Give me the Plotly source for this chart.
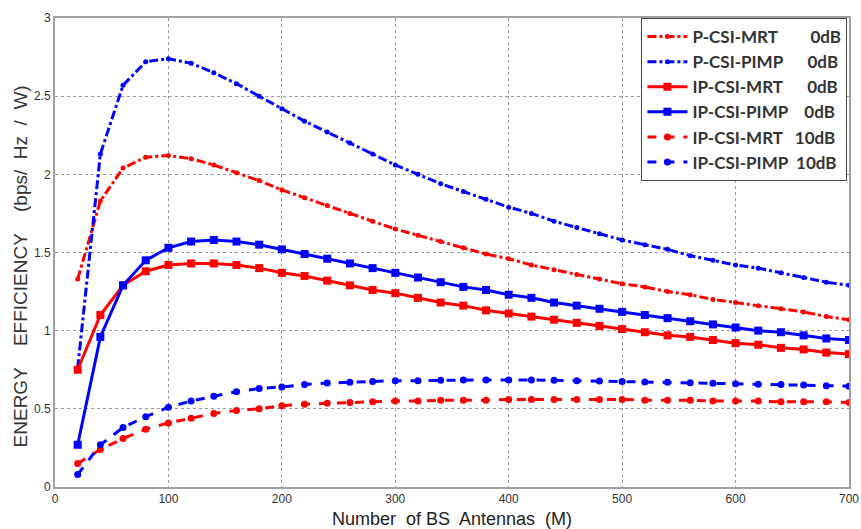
import plotly.graph_objects as go

antennas = list(range(20, 701, 20))

p_mrt_0 = [1.33, 1.83, 2.04, 2.11, 2.12, 2.10, 2.06, 2.01, 1.96, 1.90, 1.85, 1.80, 1.75, 1.70, 1.65,
           1.61, 1.57, 1.53, 1.49, 1.46, 1.42, 1.39, 1.36, 1.33, 1.30, 1.28, 1.25, 1.23, 1.20, 1.18,
           1.16, 1.14, 1.12, 1.09, 1.07]
p_pimp_0 = [0.76, 2.13, 2.57, 2.72, 2.74, 2.71, 2.65, 2.58, 2.50, 2.42, 2.34, 2.27, 2.20, 2.13, 2.06,
            2.00, 1.94, 1.89, 1.84, 1.79, 1.75, 1.70, 1.66, 1.62, 1.58, 1.55, 1.52, 1.48, 1.45, 1.42,
            1.40, 1.37, 1.34, 1.31, 1.29]
ip_mrt_0 = [0.75, 1.10, 1.29, 1.38, 1.42, 1.43, 1.43, 1.42, 1.40, 1.37, 1.35, 1.32, 1.29, 1.26, 1.24,
            1.21, 1.18, 1.16, 1.13, 1.11, 1.09, 1.07, 1.05, 1.03, 1.01, 0.99, 0.97, 0.96, 0.94, 0.92,
            0.91, 0.89, 0.88, 0.86, 0.85]
ip_pimp_0 = [0.27, 0.96, 1.29, 1.45, 1.53, 1.57, 1.58, 1.57, 1.55, 1.52, 1.49, 1.46, 1.43, 1.40, 1.37,
             1.34, 1.31, 1.28, 1.26, 1.23, 1.21, 1.18, 1.16, 1.14, 1.12, 1.10, 1.08, 1.06, 1.04, 1.02,
             1.00, 0.99, 0.97, 0.95, 0.94]
ip_mrt_10 = [0.15, 0.24, 0.31, 0.37, 0.41, 0.44, 0.47, 0.49, 0.50, 0.52, 0.53, 0.535, 0.54, 0.545, 0.55,
             0.55, 0.555, 0.555, 0.555, 0.56, 0.56, 0.56, 0.56, 0.56, 0.56, 0.555, 0.555, 0.555, 0.55, 0.55,
             0.55, 0.545, 0.545, 0.545, 0.54]
ip_pimp_10 = [0.08, 0.27, 0.38, 0.45, 0.51, 0.55, 0.58, 0.61, 0.63, 0.64, 0.655, 0.665, 0.67, 0.675, 0.68,
              0.68, 0.683, 0.685, 0.685, 0.685, 0.685, 0.683, 0.68, 0.678, 0.675, 0.672, 0.67, 0.667, 0.663, 0.66,
              0.657, 0.655, 0.652, 0.648, 0.645]

labels = ["P-CSI-MRT&nbsp;&nbsp;&nbsp;&nbsp;&nbsp;&nbsp;&nbsp;&nbsp;0dB",
          "P-CSI-PIMP&nbsp;&nbsp;&nbsp;&nbsp;&nbsp;&nbsp;0dB",
          "IP-CSI-MRT&nbsp;&nbsp;&nbsp;&nbsp;&nbsp;&nbsp;0dB",
          "IP-CSI-PIMP&nbsp;&nbsp;&nbsp;&nbsp;0dB",
          "IP-CSI-MRT&nbsp;&nbsp;&nbsp;10dB",
          "IP-CSI-PIMP&nbsp;&nbsp;10dB"]

x_title = "Number  of BS  Antennas  (M)"
y_title = "ENERGY&nbsp;&nbsp;&nbsp;&nbsp;EFFICIENCY&nbsp;&nbsp;&nbsp;&nbsp;(bps/&nbsp;&nbsp;Hz&nbsp;&nbsp;/&nbsp;&nbsp;W)"

RED = "#ff0000"
BLUE = "#0000ff"

series = [
    (p_mrt_0, labels[0], RED, "dashdot", "circle", 5),
    (p_pimp_0, labels[1], BLUE, "dashdot", "circle", 5),
    (ip_mrt_0, labels[2], RED, "solid", "square", 8),
    (ip_pimp_0, labels[3], BLUE, "solid", "square", 8),
    (ip_mrt_10, labels[4], RED, "dash", "circle", 7),
    (ip_pimp_10, labels[5], BLUE, "dash", "circle", 7),
]

fig = go.Figure()
for ys, name, col, dash, sym, ms in series:
    fig.add_trace(go.Scatter(
        x=antennas, y=ys, name=name, mode="lines+markers",
        line=dict(color=col, width=3, dash=dash),
        marker=dict(symbol=sym, size=ms, color=col),
    ))

axis_common = dict(
    showgrid=True, gridcolor="#9a9a9a", griddash="dot", gridwidth=1,
    showline=True, linecolor="#a0a0a0", linewidth=2, mirror=True,
    ticks="", zeroline=False, automargin=False,
    tickfont=dict(family="Liberation Sans Narrow, Liberation Sans, Arial", size=12, color="#333333"),
)

fig.update_layout(
    width=861, height=529,
    paper_bgcolor="white", plot_bgcolor="white",
    margin=dict(l=55, r=12, t=18, b=42),
    showlegend=True,
    legend=dict(
        x=0.998, y=1.0, xanchor="right", yanchor="top",
        bgcolor="white", bordercolor="#444444", borderwidth=1,
        font=dict(family="Lato, Open Sans, Liberation Sans", size=17, color="#333333", weight="bold"),
        itemwidth=40, tracegroupgap=0,
    ),
    annotations=[
        dict(text=x_title, x=0.5, y=-0.068, xref="paper", yref="paper",
             xanchor="center", yanchor="middle", showarrow=False,
             font=dict(family="Liberation Sans Narrow, Liberation Sans, Arial", size=18, color="#222222")),
        dict(text=y_title, x=-0.043, y=0.47, xref="paper", yref="paper",
             xanchor="center", yanchor="middle", showarrow=False, textangle=-90,
             font=dict(family="Liberation Sans, Arial", size=19, color="#333333")),
    ],
)
fig.update_xaxes(range=[0, 700], dtick=100, **axis_common)
fig.update_yaxes(range=[0, 3], dtick=0.5, **axis_common)

fig.write_html("out.html", config={"displayModeBar": False},
               post_script="document.body.style.margin='0';document.body.style.overflow='hidden';")
